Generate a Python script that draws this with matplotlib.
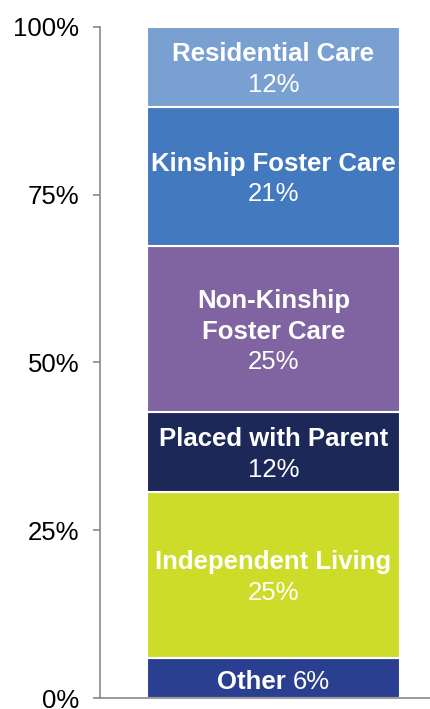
import numpy as np
import matplotlib.pyplot as plt
from matplotlib.ticker import FixedLocator

plt.rcParams['font.family'] = ['Liberation Sans', 'DejaVu Sans']

# Data (bottom to top)
names = ["Other", "Independent Living", "Placed with Parent",
         "Non-Kinship\nFoster Care", "Kinship Foster Care", "Residential Care"]
values = [6, 25, 12, 25, 21, 12]
colors = ["#2a3f90", "#cddb29", "#1c2858", "#8064a2", "#4379be", "#7aa0d2"]
yticks = [0, 25, 50, 75, 100]
ytick_labels = ["0%", "25%", "50%", "75%", "100%"]

# shares scaled so the stack fills 100%
shares = np.array(values) / sum(values) * 100
bottoms = np.concatenate([[0], np.cumsum(shares)[:-1]])

fig = plt.figure(figsize=(4.31, 7.09), dpi=100)
ax = fig.add_axes([0.232, 0.0155, 0.768, 0.9465])

bar_x = 0.524
ax.bar([bar_x] * len(shares), shares, bottom=bottoms, width=0.764,
       color=colors, edgecolor="white", linewidth=1.5, zorder=2)

fs = 18.5
gap = 22  # points between lines
for name, val, b, h in zip(names, values, bottoms, shares):
    yc = b + h / 2
    if name == "Other":
        # one line: bold name + regular percent
        split = 0.75 * fs
        ax.annotate(name + " ", (bar_x, yc), xytext=(split, -1), textcoords="offset points",
                    ha="right", va="center_baseline", fontsize=fs, fontweight="bold", color="white")
        ax.annotate(f"{val}%", (bar_x, yc), xytext=(split, -1), textcoords="offset points",
                    ha="left", va="center_baseline", fontsize=fs, color="white")
        continue
    lines = name.split("\n")
    n = len(lines) + 1
    for k, line in enumerate(lines):
        off = ((n - 1) / 2 - k) * gap
        ax.annotate(line, (bar_x, yc), xytext=(0, off), textcoords="offset points",
                    ha="center", va="center_baseline", fontsize=fs, fontweight="bold", color="white")
    off = ((n - 1) / 2 - (n - 1)) * gap
    ax.annotate(f"{val}%", (bar_x, yc), xytext=(0, off), textcoords="offset points",
                ha="center", va="center_baseline", fontsize=fs, color="white")

ax.set_xlim(0, 1)
ax.set_ylim(0, 100)
ax.yaxis.set_major_locator(FixedLocator(yticks))
ax.set_yticklabels(ytick_labels, fontsize=fs)
ax.set_xticks([])
ax.tick_params(axis="y", direction="out", length=5, width=1.2, color="#898989", pad=10)

for side in ["top", "right"]:
    ax.spines[side].set_visible(False)
for side in ["left", "bottom"]:
    ax.spines[side].set_color("#898989")
    ax.spines[side].set_linewidth(1.2)

fig.savefig("out.png", dpi=100)
